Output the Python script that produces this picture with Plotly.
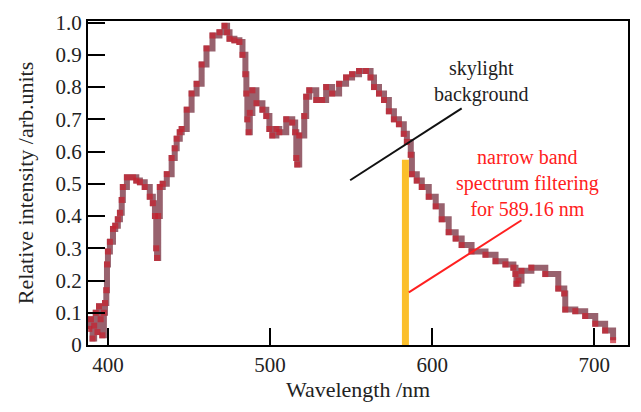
import plotly.graph_objects as go

wavelength = [388.5, 389.5, 390.5, 391.5, 392.5, 393.5, 394.5, 395.5, 396.5, 397.5, 398.2, 399.0, 399.4,
              400.0, 401.2, 403.1, 404.5, 406.1, 407.4, 408.5, 409.2, 411.7, 415.4, 417.5, 419.7, 422.7,
              425.8, 427.7, 429.0, 429.8, 430.3, 431.0, 432.0, 433.8, 436.3, 439.3, 441.2, 442.4, 444.3,
              445.5, 448.6, 451.6, 454.7, 457.8, 460.8, 464.5, 468.8, 471.9, 473.5, 475.0, 478.0, 481.1,
              483.0, 484.8, 485.4, 486.0, 486.8, 487.5, 489.1, 491.6, 495.3, 497.7, 499.6, 501.4, 503.9,
              505.7, 510.0, 513.7, 515.5, 516.2, 516.8, 518.0, 521.1, 522.3, 524.2, 528.5, 532.1, 534.6,
              538.3, 542.6, 546.9, 550.6, 554.9, 559.2, 562.0, 564.1, 567.2, 570.3, 573.3, 576.4, 579.5,
              582.5, 584.4, 586.8, 587.5, 590.5, 593.6, 597.9, 602.2, 605.9, 610.2, 614.5, 618.2, 624.3,
              632.9, 639.1, 645.2, 650.1, 651.4, 652.0, 653.2, 655.1, 661.2, 669.8, 677.8, 681.5, 682.1,
              688.3, 694.4, 700.6, 706.7, 711.6]
intensity = [0.05, 0.08, 0.02, 0.06, 0.10, 0.04, 0.12, 0.08, 0.03, 0.10, 0.13, 0.17, 0.25,
             0.29, 0.32, 0.36, 0.37, 0.39, 0.41, 0.45, 0.49, 0.52, 0.52, 0.51, 0.505, 0.49,
             0.46, 0.44, 0.40, 0.30, 0.27, 0.40, 0.49, 0.50, 0.53, 0.58, 0.61, 0.64, 0.66,
             0.67, 0.73, 0.78, 0.81, 0.87, 0.92, 0.96, 0.97, 0.99, 0.97, 0.95, 0.945, 0.94,
             0.90, 0.84, 0.78, 0.70, 0.66, 0.72, 0.79, 0.75, 0.73, 0.71, 0.67, 0.65, 0.67,
             0.66, 0.70, 0.69, 0.66, 0.58, 0.56, 0.65, 0.71, 0.77, 0.79, 0.76, 0.76, 0.80,
             0.78, 0.81, 0.83, 0.84, 0.85, 0.85, 0.83, 0.80, 0.78, 0.76, 0.725, 0.70, 0.685,
             0.655, 0.63, 0.59, 0.53, 0.51, 0.49, 0.46, 0.43, 0.39, 0.35, 0.33, 0.31, 0.29,
             0.28, 0.26, 0.25, 0.24, 0.22, 0.19, 0.20, 0.23, 0.24, 0.22, 0.175, 0.16, 0.11,
             0.105, 0.09, 0.066, 0.045, 0.015]

filter_wl = [583.5, 583.5]
filter_level = [0.0, 0.575]

x_ticks = [400, 500, 600, 700]
y_ticks = [0, 0.1, 0.2, 0.3, 0.4, 0.5, 0.6, 0.7, 0.8, 0.9, 1.0]
y_ticktext = ["0", "0.1", "0.2", "0.3", "0.4", "0.5", "0.6", "0.7", "0.8", "0.9", "1.0"]

sky_pointer_x = [549.4, 618.2]
sky_pointer_y = [0.511, 0.734]
band_pointer_x = [585.6, 655.1]
band_pointer_y = [0.163, 0.387]

FONT = "Liberation Serif"

fig = go.Figure()
fig.add_trace(go.Scatter(x=wavelength, y=intensity, mode="lines+markers",
                         line=dict(shape="hv", width=6, color="#98626e"),
                         marker=dict(symbol="square", size=6, color="#c8202c", opacity=0.7),
                         showlegend=False, hoverinfo="skip"))
fig.add_trace(go.Scatter(x=filter_wl, y=filter_level, mode="lines",
                         line=dict(width=7, color="#fbbf2b"), showlegend=False, hoverinfo="skip"))
fig.add_trace(go.Scatter(x=sky_pointer_x, y=sky_pointer_y, mode="lines",
                         line=dict(width=2, color="#111111"), showlegend=False, hoverinfo="skip"))
fig.add_trace(go.Scatter(x=band_pointer_x, y=band_pointer_y, mode="lines",
                         line=dict(width=2, color="#ff2020"), showlegend=False, hoverinfo="skip"))

labels = [
    ("skylight<br>background", 630.2, 0.817, "#222222"),
    ("narrow band<br>spectrum filtering<br>for 589.16 nm", 659.0, 0.503, "#ff2020"),
]
for txt, lx, ly, col in labels:
    fig.add_annotation(x=lx, y=ly, xref="x", yref="y", text=txt, showarrow=False,
                       font=dict(family=FONT, size=20, color=col), xanchor="center", yanchor="middle",
                       align="center")

axis_common = dict(showline=True, linecolor="black", linewidth=2, mirror=True,
                   ticks="inside", ticklen=17, tickwidth=2, tickcolor="black",
                   showgrid=False, zeroline=False,
                   tickfont=dict(family=FONT, size=21, color="#222222"))

fig.update_layout(
    width=641, height=412,
    margin=dict(l=88, r=11, t=13, b=67),
    paper_bgcolor="white", plot_bgcolor="white",
    xaxis=dict(range=[387.7, 720.8], tickvals=x_ticks,
               title=dict(text="Wavelength /nm", font=dict(family=FONT, size=22, color="#222222"), standoff=4),
               **axis_common),
    yaxis=dict(range=[0, 1.005], tickvals=y_ticks, ticktext=y_ticktext,
               title=dict(text="Relative intensity /arb.units", font=dict(family=FONT, size=22, color="#222222"), standoff=16),
               **axis_common),
)

fig.write_html("out.html")
